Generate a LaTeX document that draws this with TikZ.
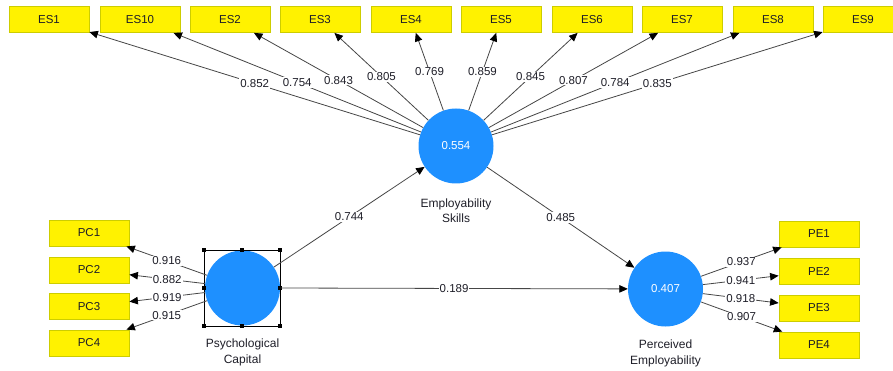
\documentclass[tikz,border=0pt]{standalone}
\usepackage{fontspec}
\setmainfont{Liberation Sans}
\usetikzlibrary{arrows.meta}
\definecolor{latblue}{RGB}{30,144,255}
\definecolor{yedge}{RGB}{205,205,0}
\definecolor{lgray}{RGB}{70,70,70}
\definecolor{txt}{RGB}{30,30,40}
\begin{document}
\begin{tikzpicture}[x=1pt,y=-1pt,
  ind/.style={draw=yedge, fill=yellow, line width=0.8pt, minimum width=80pt, minimum height=26pt, inner sep=0pt, text=txt, font=\fontsize{11.5}{13}\selectfont},
  lat/.style={circle, fill=latblue, minimum size=75pt, inner sep=0pt, text=white, font=\fontsize{11.5}{13}\selectfont},
  con/.style={draw=lgray, line width=0.8pt, -{Triangle[length=8.5pt,width=7.5pt,color=black]}},
  val/.style={fill=white, inner sep=1pt, text=txt, font=\fontsize{11.5}{13}\selectfont},
  nm/.style={align=center, text=txt, font=\fontsize{12}{15.5}\selectfont},
  handle/.style={fill=black, minimum size=4pt, inner sep=0pt}]
\useasboundingbox (0,0) rectangle (893,371);
\clip (0,0) rectangle (893,371);
% latent variables
\node[lat] (es) at (456,146) {0.554};
\node[lat] (pc) at (242.5,288) {};
\node[lat] (pe) at (665.5,289) {0.407};
\node[nm] (esl) at (456,210.5) {Employability\\Skills};
\node[nm] (pcl) at (242.5,352.5) {Psychological\\Capital};
\node[nm] (pel) at (665.5,353.5) {Perceived\\Employability};
% selection box
\node[draw=black, line width=0.8pt, minimum size=76pt, inner sep=0pt] (sel) at (242,288) {};
\foreach \a in {north west,north,north east,east,south east,south,south west,west}
  \node[handle] at (sel.\a) {};
% ES indicators
\node[ind] (es1) at (49,19.5) {ES1};
\node[ind] (es10) at (140,19.5) {ES10};
\node[ind] (es2) at (230,19.5) {ES2};
\node[ind] (es3) at (320,19.5) {ES3};
\node[ind] (es4) at (411,19.5) {ES4};
\node[ind] (es5) at (501,19.5) {ES5};
\node[ind] (es6) at (592,19.5) {ES6};
\node[ind] (es7) at (682,19.5) {ES7};
\node[ind] (es8) at (773,19.5) {ES8};
\node[ind] (es9) at (863,19.5) {ES9};
% PC indicators
\node[ind] (pc1) at (89,233) {PC1};
\node[ind] (pc2) at (89,270) {PC2};
\node[ind] (pc3) at (89,306.5) {PC3};
\node[ind] (pc4) at (89,343) {PC4};
% PE indicators
\node[ind] (pe1) at (819,234) {PE1};
\node[ind] (pe2) at (819,271) {PE2};
\node[ind] (pe3) at (819,308) {PE3};
\node[ind] (pe4) at (819,345) {PE4};
% ES loadings
\draw[con] (es) -- node[val]{0.852} (es1);
\draw[con] (es) -- node[val]{0.754} (es10);
\draw[con] (es) -- node[val]{0.843} (es2);
\draw[con] (es) -- node[val]{0.805} (es3);
\draw[con] (es) -- node[val]{0.769} (es4);
\draw[con] (es) -- node[val]{0.859} (es5);
\draw[con] (es) -- node[val]{0.845} (es6);
\draw[con] (es) -- node[val]{0.807} (es7);
\draw[con] (es) -- node[val]{0.784} (es8);
\draw[con] (es) -- node[val]{0.835} (es9);
% PC loadings
\draw[con] (pc) -- node[val]{0.916} (pc1);
\draw[con] (pc) -- node[val]{0.882} (pc2);
\draw[con] (pc) -- node[val]{0.919} (pc3);
\draw[con] (pc) -- node[val]{0.915} (pc4);
% PE loadings
\draw[con] (pe) -- node[val]{0.937} (pe1);
\draw[con] (pe) -- node[val]{0.941} (pe2);
\draw[con] (pe) -- node[val]{0.918} (pe3);
\draw[con] (pe) -- node[val]{0.907} (pe4);
% structural paths
\draw[con] (pc) -- node[val]{0.744} (es);
\draw[con] (es) -- node[val]{0.485} (pe);
\draw[con] (sel.east) -- node[val]{0.189} (pe);
\end{tikzpicture}
\end{document}
